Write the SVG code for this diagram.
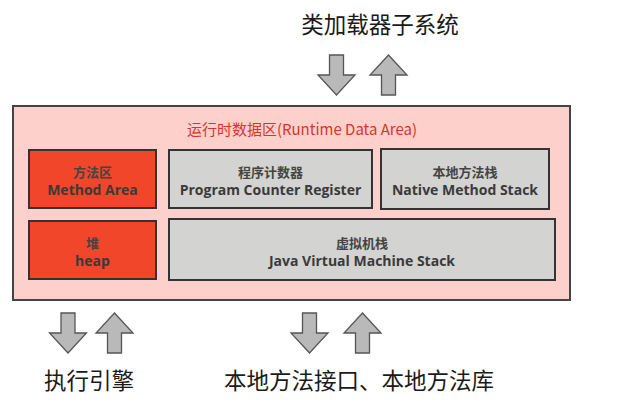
<svg xmlns="http://www.w3.org/2000/svg" width="618" height="402" viewBox="0 0 618 402">
<defs>
<style>
.big{font-family:"Noto Sans CJK SC","Noto Sans",sans-serif;font-size:22.5px;fill:#1a1a1a;text-anchor:middle;dominant-baseline:central}
.box{stroke:#333;stroke-width:2}
.red{fill:#f2462b}
.gray{fill:#d3d3d1}
.lbl{font-family:"Open Sans","Noto Sans CJK SC",sans-serif;font-weight:bold;font-size:14px;fill:#3a3a3a;text-anchor:middle;dominant-baseline:central}
.cn{font-family:"Noto Sans CJK SC",sans-serif;font-weight:bold;font-size:13px;fill:#444;text-anchor:middle;dominant-baseline:central}
.arrow{fill:#b9b9b9;stroke:#555;stroke-width:1.3;stroke-linejoin:miter}
</style>
<path id="down" d="M-7,0 H7 V20 H18.5 L0,40 L-18.5,20 H-7 Z"/>
<path id="up" d="M-7,40 H7 V20 H18.5 L0,0 L-18.5,20 H-7 Z"/>
</defs>
<g id="runtime-data-area">
<rect x="13" y="106" width="557" height="194" fill="#fed0cc" stroke="#444" stroke-width="2"/>
<text x="302" y="128" font-family="'Noto Sans CJK SC','Open Sans',sans-serif" font-size="15" fill="#d8342a" text-anchor="middle" dominant-baseline="central">运行时数据区(Runtime Data Area)</text>
</g>
<g id="method-area">
<rect class="box red" x="29" y="150" width="127" height="58"/>
<text class="cn" x="92.5" y="171">方法区</text>
<text class="lbl" x="92.5" y="189">Method Area</text>
</g>
<g id="program-counter">
<rect class="box gray" x="169" y="150" width="203" height="58"/>
<text class="cn" x="270.5" y="171">程序计数器</text>
<text class="lbl" x="270.5" y="189">Program Counter Register</text>
</g>
<g id="native-method-stack">
<rect class="box gray" x="381" y="149" width="168" height="60"/>
<text class="cn" x="465" y="171">本地方法栈</text>
<text class="lbl" x="465" y="189">Native Method Stack</text>
</g>
<g id="heap">
<rect class="box red" x="29" y="221" width="127" height="58"/>
<text class="cn" x="92.5" y="242">堆</text>
<text class="lbl" x="92.5" y="260">heap</text>
</g>
<g id="jvm-stack">
<rect class="box gray" x="169" y="219" width="386" height="61"/>
<text class="cn" x="362" y="242">虚拟机栈</text>
<text class="lbl" x="362" y="260">Java Virtual Machine Stack</text>
</g>
<g id="class-loader">
<text class="big" x="380" y="23">类加载器子系统</text>
</g>
<g id="execution-engine">
<text class="big" x="89" y="379">执行引擎</text>
</g>
<g id="native-interface">
<text class="big" x="359" y="379">本地方法接口、本地方法库</text>
</g>
<g id="connectors">
<use href="#down" class="arrow" x="336.5" y="55"/>
<use href="#up" class="arrow" x="388.5" y="55"/>
<use href="#down" class="arrow" x="68" y="313"/>
<use href="#up" class="arrow" x="114.5" y="313"/>
<use href="#down" class="arrow" x="309.5" y="313"/>
<use href="#up" class="arrow" x="362.5" y="313"/>
</g>
</svg>
